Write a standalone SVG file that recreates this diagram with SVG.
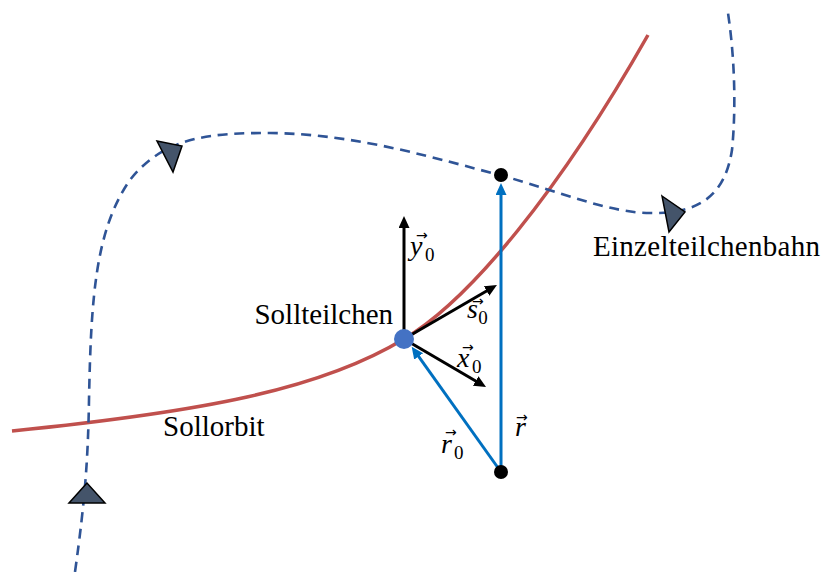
<svg xmlns="http://www.w3.org/2000/svg" width="824" height="572" viewBox="0 0 824 572">
<style>
.orbit{fill:none;stroke:#C0504D;stroke-width:3.5}
.traj{fill:none;stroke:#2F5496;stroke-width:2.6;stroke-dasharray:10 6.7}
.tri{fill:#44546A;stroke:#000;stroke-width:1.5;stroke-linejoin:miter}
.vk{fill:none;stroke:#000;stroke-width:3;marker-end:url(#ak)}
.vb{fill:none;stroke:#0070C0;stroke-width:3;marker-end:url(#ab)}
text{font-family:'Liberation Serif','DejaVu Serif',serif;fill:#000}
.lbl{font-size:29px}
.m{font-size:28px;font-style:italic}
.sub{font-size:19px;font-style:normal}
.acc{font-family:'DejaVu Sans',sans-serif;font-size:14px;font-style:normal}
</style>
<defs>
<marker id="ak" markerUnits="userSpaceOnUse" markerWidth="14" markerHeight="12" refX="2" refY="5.5" orient="auto"><path d="M0,0 L12,5.5 L0,11 z" fill="#000"/></marker>
<marker id="ab" markerUnits="userSpaceOnUse" markerWidth="14" markerHeight="12" refX="2" refY="5.5" orient="auto"><path d="M0,0 L12,5.5 L0,11 z" fill="#0070C0"/></marker>
</defs>
<g id="sollorbit">
<path class="orbit" d="M12,431 C200,412 320,390 404,339 C470,300 560,190 648,35"/>
<text class="lbl" x="163" y="436">Sollorbit</text>
</g>
<g id="einzelteilchenbahn">
<path class="traj" d="M75,572 C85,500 88,460 89,400 C91,300 95,230 130,180 C165,135 215,133 270,133 C360,134 440,160 500,175 C560,192 610,213 650,213 C700,214 725,195 732,150 C736,110 735,60 728,13"/>
<polygon class="tri" points="87,483 69,503 105,503"/>
<polygon class="tri" points="157,141 182,146 173,172"/>
<polygon class="tri" points="662,196 685,212 669,232"/>
<text class="lbl" x="593" y="256" textLength="227">Einzelteilchenbahn</text>
</g>
<g id="connectors">
<path class="vk" d="M404,339 L404,226"/>
<path class="vk" d="M404,339 L488.3,290"/>
<path class="vk" d="M404,339 L477.4,382"/>
<path class="vb" d="M501,472 L501,193"/>
<path class="vb" d="M501,472 L417.5,354.8"/>
</g>
<g id="sollteilchen">
<circle cx="404" cy="339" r="10" fill="#4472C4"/>
<text class="lbl" x="393" y="324" text-anchor="end">Sollteilchen</text>
</g>
<g id="punkt-oben"><circle cx="501" cy="175" r="7" fill="#000"/></g>
<g id="punkt-unten"><circle cx="501" cy="472" r="7" fill="#000"/></g>
<g id="labels">
<text class="m" x="410" y="255">y<tspan class="acc" dx="-6.4" dy="-15">→</tspan><tspan class="sub" dx="-2.7" dy="21">0</tspan></text>
<text class="m" x="467" y="318">s<tspan class="acc" dx="-5.9" dy="-12">→</tspan><tspan class="sub" dx="-5.6" dy="18">0</tspan></text>
<text class="m" x="457" y="367">x<tspan class="acc" dx="-7.4" dy="-15">→</tspan><tspan class="sub" dx="-1.7" dy="21">0</tspan></text>
<text class="m" x="441" y="453">r<tspan class="acc" dx="-6.9" dy="-16">→</tspan><tspan class="sub" dx="-2.7" dy="22">0</tspan></text>
<text class="m" x="515" y="436">r<tspan class="acc" dx="-9.9" dy="-14">→</tspan></text>
</g>
</svg>
